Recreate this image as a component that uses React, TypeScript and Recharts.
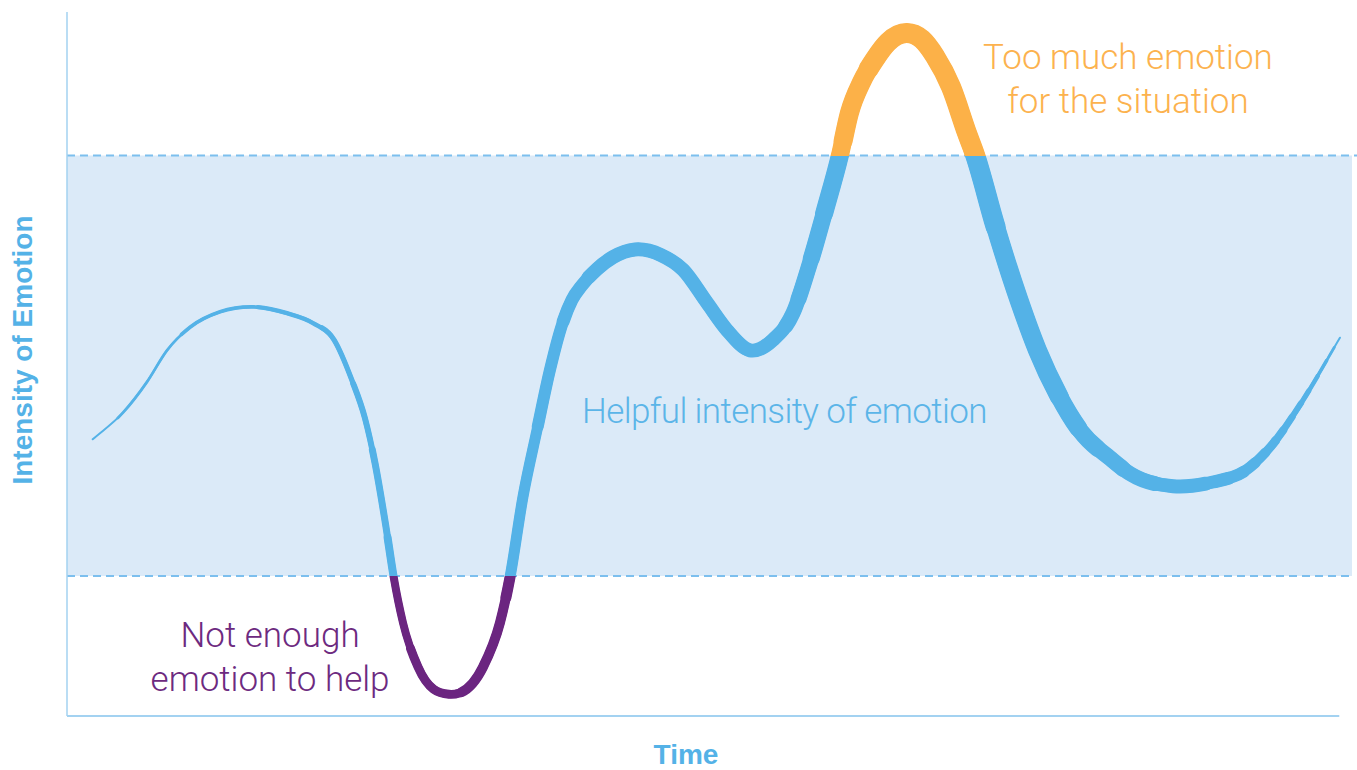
import { LineChart, Line, XAxis, YAxis, ReferenceArea, ReferenceLine, ReferenceDot, Label } from 'recharts'

// time position of each traced point on the emotion curve (0 - 100)
const time = [
  2.02, 4.4, 6.29, 7.86, 9.67, 12.03, 14.62, 17.29, 19.33, 20.99,
  22.38, 23.42, 24.21, 25.07, 25.68, 26.41, 27.59, 30.02, 32.7, 34.03,
  34.82, 35.84, 36.94, 37.96, 38.9, 39.69, 40.48, 41.66, 42.91, 44.64,
  46.69, 48.42, 50.3, 51.87, 53.68, 55.49, 57.06, 58.4, 59.58, 60.76,
  61.5, 62.48, 63.51, 64.53, 66.02, 67.2, 68.22, 69.48, 70.74, 71.37,
  72.94, 74.82, 76.28, 77.93, 79.7, 81.98, 83.55, 86.93, 90.07, 92.59,
  94.63, 97.15, 100.05,
]
// intensity of emotion at each of those times (0 - 100)
const intensity = [
  39.5, 43.3, 47.7, 52.2, 55.5, 57.7, 58.4, 57.5, 56.1, 53.7,
  48.0, 42.5, 36.1, 27.0, 19.8, 13.3, 7.0, 3.1, 7.0, 13.3,
  19.8, 31.3, 40.8, 49.4, 55.8, 59.4, 61.5, 63.8, 65.5, 66.6,
  65.8, 63.7, 59.0, 55.1, 52.2, 53.7, 57.5, 64.7, 72.2, 80.1,
  86.1, 90.6, 93.8, 96.2, 97.5, 96.6, 94.2, 89.8, 83.2, 80.1,
  70.1, 59.4, 52.2, 45.8, 40.6, 36.8, 34.6, 32.8, 33.4, 35.0,
  38.5, 45.1, 54.0,
]

const helpfulLow = 20
const helpfulHigh = 80

const labelTooMuch = ['Too much emotion', 'for the situation']
const labelHelpful = ['Helpful intensity of emotion']
const labelNotEnough = ['Not enough', 'emotion to help']

const BLUE = '#54b2e7'
const ORANGE = '#fcb148'
const PURPLE = '#6b2580'
const LIGHT = "Roboto, 'Helvetica Neue', Arial, sans-serif"
const BOLD = "'Liberation Sans', Arial, sans-serif"

const W = 1357
const H = 770
const MARGIN = { top: 12, right: 5, bottom: 0, left: 0 }
const X_AXIS_H = 54
const Y_MAX = 100.5

// pen width over time: the curve is stroked several times, each pass only
// over the stretch of time where the pen is at least that wide
const penLayers = [
  { from: 0, to: 101, width: 2 },
  { from: 4, to: 99.6, width: 2.8 },
  { from: 9, to: 99, width: 3.6 },
  { from: 15, to: 98.3, width: 4.4 },
  { from: 20, to: 97.6, width: 5.2 },
  { from: 22.5, to: 97, width: 6 },
  { from: 24, to: 96.3, width: 7 },
  { from: 25.2, to: 95.6, width: 8 },
  { from: 27, to: 95, width: 9 },
  { from: 31, to: 94.2, width: 10 },
  { from: 34.5, to: 93.4, width: 11 },
  { from: 37, to: 92.5, width: 12 },
  { from: 39, to: 91.3, width: 13 },
  { from: 41, to: 89.5, width: 14 },
  { from: 56.5, to: 85.5, width: 15 },
  { from: 57.5, to: 83, width: 16 },
  { from: 58.5, to: 81, width: 17 },
  { from: 59.5, to: 79.5, width: 18 },
  { from: 61, to: 78, width: 19 },
  { from: 63, to: 73, width: 20 },
]

const rows = time.map((t, i) => ({ t, v: intensity[i] }))
const tMin = Math.min(...time)
const tMax = Math.max(...time)

// smooth cubic through the points (x-parameterised hermite), drawn only
// between fractions a..b of the curve's horizontal extent
function partialCurve(a: number, b: number) {
  return (context: any) => {
    let xs: number[] = []
    let ys: number[] = []
    const draw = () => {
      const n = xs.length
      if (n < 2) return
      const slope = (i: number) => (ys[i + 1] - ys[i]) / (xs[i + 1] - xs[i])
      const m = xs.map((_, i) => {
        if (i === 0) return slope(0)
        if (i === n - 1) return slope(n - 2)
        const h0 = xs[i] - xs[i - 1]
        const h1 = xs[i + 1] - xs[i]
        return (slope(i - 1) * h1 + slope(i) * h0) / (h0 + h1)
      })
      const xa = xs[0] + a * (xs[n - 1] - xs[0])
      const xb = xs[0] + b * (xs[n - 1] - xs[0])
      let started = false
      for (let i = 0; i < n - 1; i++) {
        const h = xs[i + 1] - xs[i]
        const u0 = Math.max(0, Math.min(1, (xa - xs[i]) / h))
        const u1 = Math.max(0, Math.min(1, (xb - xs[i]) / h))
        if (u1 <= u0) continue
        const y = (u: number) => {
          const u2 = u * u
          const u3 = u2 * u
          return (2 * u3 - 3 * u2 + 1) * ys[i] + (u3 - 2 * u2 + u) * h * m[i] + (-2 * u3 + 3 * u2) * ys[i + 1] + (u3 - u2) * h * m[i + 1]
        }
        const dy = (u: number) => {
          const u2 = u * u
          return (6 * u2 - 6 * u) * ys[i] + (3 * u2 - 4 * u + 1) * h * m[i] + (-6 * u2 + 6 * u) * ys[i + 1] + (3 * u2 - 2 * u) * h * m[i + 1]
        }
        const du = u1 - u0
        const x0 = xs[i] + u0 * h
        const x1 = xs[i] + u1 * h
        const y0 = y(u0)
        const y1 = y(u1)
        if (!started) {
          context.moveTo(x0, y0)
          started = true
        }
        context.bezierCurveTo(x0 + (du * h) / 3, y0 + (du * dy(u0)) / 3, x1 - (du * h) / 3, y1 - (du * dy(u1)) / 3, x1, y1)
      }
    }
    return {
      areaStart() {},
      areaEnd() {},
      lineStart() {
        xs = []
        ys = []
      },
      lineEnd() {
        draw()
      },
      point(x: number, y: number) {
        xs.push(+x)
        ys.push(+y)
      },
    }
  }
}

// where a value sits vertically in the svg, for the colour bands of the pen
const plotH = H - MARGIN.top - MARGIN.bottom - X_AXIS_H
const yFrac = (v: number) => (MARGIN.top + ((Y_MAX - v) / Y_MAX) * plotH) / H

const note = (lines: string[], color: string, anchor: 'start' | 'middle', spacing = 0) => (props: any) => {
  const { x, y } = props.viewBox
  return (
    <text x={x} y={y} fill={color} fontSize={35} fontWeight={300} fontFamily={LIGHT} textAnchor={anchor} letterSpacing={spacing}>
      {lines.map((l, i) => (
        <tspan key={i} x={x} dy={i === 0 ? 0 : 44}>{l}</tspan>
      ))}
    </text>
  )
}

export default function App() {
  return (
    <div style={{ position: 'absolute', left: 0, top: 0, background: '#fff' }}>
      <LineChart width={W} height={H} data={rows} margin={MARGIN}>
        <defs>
          <linearGradient id="pen" gradientUnits="userSpaceOnUse" x1={0} y1={0} x2={0} y2={H}>
            <stop offset={0} stopColor={ORANGE} />
            <stop offset={yFrac(helpfulHigh)} stopColor={ORANGE} />
            <stop offset={yFrac(helpfulHigh)} stopColor={BLUE} />
            <stop offset={yFrac(helpfulLow)} stopColor={BLUE} />
            <stop offset={yFrac(helpfulLow)} stopColor={PURPLE} />
            <stop offset={1} stopColor={PURPLE} />
          </linearGradient>
        </defs>
        <XAxis type="number" dataKey="t" domain={[0, 101]} allowDataOverflow tick={false} tickLine={false} axisLine={false} height={X_AXIS_H}>
          <Label
            content={(p: any) => (
              <text x={p.viewBox.x + 619} y={p.viewBox.y + 48} textAnchor="middle" fill={BLUE} fontSize={28} fontWeight={700} fontFamily={BOLD}>
                Time
              </text>
            )}
          />
        </XAxis>
        <YAxis type="number" domain={[0, Y_MAX]} allowDataOverflow tick={false} tickLine={false} axisLine={false} width={67}>
          <Label
            content={(p: any) => {
              const x = p.viewBox.x + 32
              const y = 350
              return (
                <text x={x} y={y} transform={`rotate(-90 ${x} ${y})`} textAnchor="middle" fill={BLUE} fontSize={28} fontWeight={700} fontFamily={BOLD}>
                  Intensity of Emotion
                </text>
              )
            }}
          />
        </YAxis>
        <ReferenceArea x1={0} x2={101} y1={helpfulLow} y2={helpfulHigh} fill="#dbeaf8" fillOpacity={1} stroke="none" />
        <ReferenceLine y={helpfulLow} stroke="#7cbfee" strokeWidth={2} strokeDasharray="8 5" />
        <ReferenceLine
          segment={[{ x: 0, y: helpfulHigh }, { x: 101.4, y: helpfulHigh }]}
          ifOverflow="visible"
          stroke="#7cbfee"
          strokeWidth={2}
          strokeDasharray="8 5"
        />
        <ReferenceLine x={0} stroke="#a3d2f1" strokeWidth={1.5} />
        <ReferenceLine segment={[{ x: 0, y: 0 }, { x: 100, y: 0 }]} stroke="#a3d2f1" strokeWidth={2} />
        {penLayers.map((layer, k) => (
          <Line
            key={k}
            dataKey="v"
            type={partialCurve((layer.from - tMin) / (tMax - tMin), (layer.to - tMin) / (tMax - tMin)) as any}
            stroke="url(#pen)"
            strokeWidth={layer.width}
            strokeLinecap="round"
            strokeLinejoin="round"
            dot={false}
            activeDot={false}
            isAnimationActive={false}
          />
        ))}
        <ReferenceDot x={83.39} y={92.36} r={0} ifOverflow="visible" label={note(labelTooMuch, '#fcb24e', 'middle')} />
        <ReferenceDot x={40.48} y={41.83} r={0} ifOverflow="visible" label={note(labelHelpful, '#5bb5e8', 'start', -0.6)} />
        <ReferenceDot x={15.96} y={9.85} r={0} ifOverflow="visible" label={note(labelNotEnough, '#6d2a80', 'middle')} />
      </LineChart>
    </div>
  )
}
